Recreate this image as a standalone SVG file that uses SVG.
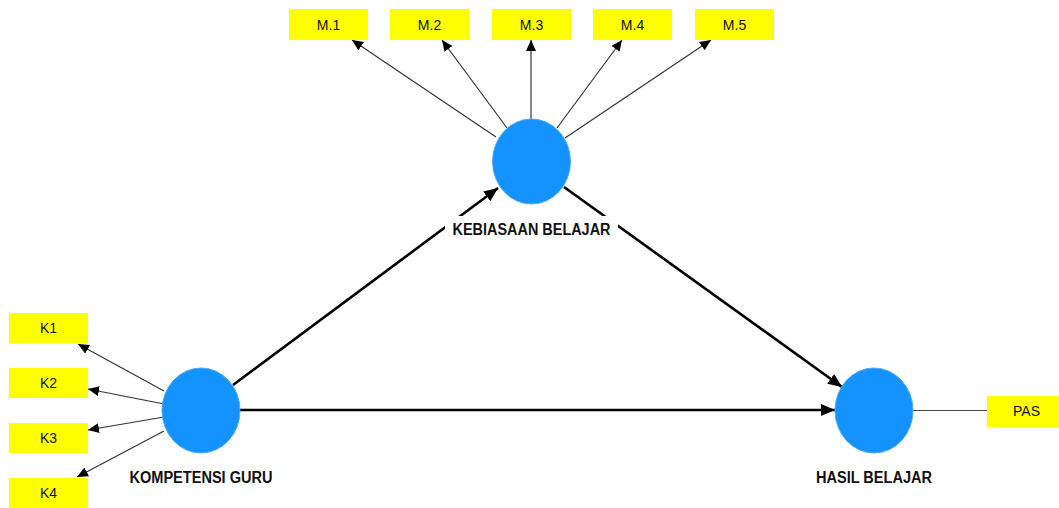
<svg xmlns="http://www.w3.org/2000/svg" width="1059" height="508" viewBox="0 0 1059 508">
<style>
.ind{fill:#ffff00;}
.it{font-family:"Liberation Sans",Arial,sans-serif;font-size:14px;fill:#111;text-anchor:middle;}
.lv{fill:#1493ff;stroke:#4aa8ff;stroke-width:1;}
.lbl{font-family:"Liberation Sans",Arial,sans-serif;font-size:16px;font-weight:bold;fill:#111;text-anchor:middle;}
.thin{stroke:#333;stroke-width:1.2;fill:none;marker-end:url(#ah);}
.thick{stroke:#000;stroke-width:2.6;fill:none;marker-end:url(#ahb);}
.plain{stroke:#444;stroke-width:1.2;fill:none;}
</style>
<defs>
<marker id="ah" markerUnits="userSpaceOnUse" markerWidth="12" markerHeight="11" refX="11" refY="5" orient="auto"><path d="M0,0 L11,5 L0,10 z" fill="#000"/></marker>
<marker id="ahb" markerUnits="userSpaceOnUse" markerWidth="15" markerHeight="13" refX="14" refY="6" orient="auto"><path d="M0,0 L14,6 L0,12 z" fill="#000"/></marker>
</defs>
<rect width="1059" height="508" fill="#fff"/>
<g id="connectors">
<path class="thin" d="M496,137 L352,40"/>
<path class="thin" d="M507,128 L442,40"/>
<path class="thin" d="M531,119 L531,40"/>
<path class="thin" d="M557,128 L622,40"/>
<path class="thin" d="M565,138 L711,40"/>
<path class="thin" d="M164,391 L78,344"/>
<path class="thin" d="M164,404 L88,389"/>
<path class="thin" d="M164,417 L88,430"/>
<path class="thin" d="M164,431 L77,477"/>
<path class="thick" d="M233,385 L498,188"/>
<path class="thick" d="M564,187 L842,387"/>
<path class="thick" d="M240,410 L835,410"/>
<path class="plain" d="M913,410.5 L988,410.5"/>
</g>
<g id="M1"><rect class="ind" x="289" y="9" width="79" height="31"/><text class="it" x="328.5" y="29.5">M.1</text></g>
<g id="M2"><rect class="ind" x="390" y="9" width="79" height="31"/><text class="it" x="429.5" y="29.5">M.2</text></g>
<g id="M3"><rect class="ind" x="492" y="9" width="79" height="31"/><text class="it" x="531.5" y="29.5">M.3</text></g>
<g id="M4"><rect class="ind" x="593" y="9" width="79" height="31"/><text class="it" x="632.5" y="29.5">M.4</text></g>
<g id="M5"><rect class="ind" x="695" y="9" width="79" height="31"/><text class="it" x="734.5" y="29.5">M.5</text></g>
<g id="K1"><rect class="ind" x="9" y="313" width="79" height="30"/><text class="it" x="48.5" y="333">K1</text></g>
<g id="K2"><rect class="ind" x="9" y="368" width="79" height="30"/><text class="it" x="48.5" y="388">K2</text></g>
<g id="K3"><rect class="ind" x="9" y="423" width="79" height="30"/><text class="it" x="48.5" y="443">K3</text></g>
<g id="K4"><rect class="ind" x="9" y="478" width="79" height="30"/><text class="it" x="48.5" y="498">K4</text></g>
<g id="PAS"><rect class="ind" x="987" y="396" width="79" height="31"/><text class="it" x="1026.5" y="416">PAS</text></g>
<g id="KEBIASAAN"><ellipse class="lv" cx="531.5" cy="161.5" rx="39" ry="42.5"/><rect x="445" y="216" width="173" height="24" fill="#fff"/><text class="lbl" x="531.5" y="235" textLength="158" lengthAdjust="spacingAndGlyphs">KEBIASAAN BELAJAR</text></g>
<g id="KOMPETENSI"><ellipse class="lv" cx="201" cy="410.5" rx="39" ry="42.5"/><text class="lbl" x="201" y="482.5" textLength="143" lengthAdjust="spacingAndGlyphs">KOMPETENSI GURU</text></g>
<g id="HASIL"><ellipse class="lv" cx="874" cy="410.5" rx="39" ry="42.5"/><text class="lbl" x="874" y="482.5" textLength="116" lengthAdjust="spacingAndGlyphs">HASIL BELAJAR</text></g>
</svg>
